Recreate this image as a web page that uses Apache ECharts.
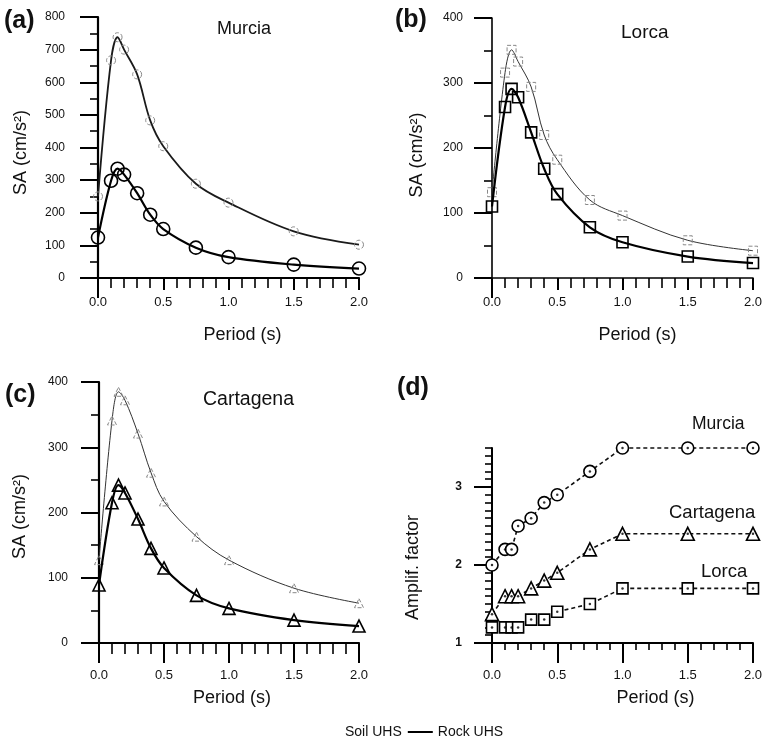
<!DOCTYPE html>
<html>
<head>
<meta charset="utf-8">
<script src="https://cdn.jsdelivr.net/npm/echarts@6/dist/echarts.min.js"></script>
<style>
html,body{margin:0;padding:0;background:#fff;}
#chart{width:767px;height:743px;}
</style>
</head>
<body>
<div id="chart"></div>
<script>
// ---------------- data ----------------
const period = [0, 0.1, 0.15, 0.2, 0.3, 0.4, 0.5, 0.75, 1.0, 1.5, 2.0];

const murciaSoil = [250, 667, 738, 700, 624, 483, 404, 289, 231, 143, 102];
const murciaRock = [124, 298, 335, 317, 260, 194, 150, 93, 64, 41, 29];
const lorcaSoil  = [132, 316, 351, 333, 294, 220, 182, 120, 96, 58, 42];
const lorcaRock  = [110, 263, 291, 278, 224, 168, 129, 78, 55, 33, 23];
const cartSoil   = [127, 341, 385, 372, 321, 261, 217, 163, 127, 84, 61];
const cartRock   = [89, 215, 242, 230, 190, 145, 115, 73, 53, 35, 26];

const ampMurcia = [2.0, 2.2, 2.2, 2.5, 2.6, 2.8, 2.9, 3.2, 3.5, 3.5, 3.5];
const ampCart   = [1.37, 1.6, 1.6, 1.6, 1.7, 1.8, 1.9, 2.2, 2.4, 2.4, 2.4];
const ampLorca  = [1.2, 1.2, 1.2, 1.2, 1.3, 1.3, 1.4, 1.5, 1.7, 1.7, 1.7];

const xMajor = [0, 0.5, 1.0, 1.5, 2.0];
const xMinor = [0.1, 0.2, 0.3, 0.4, 0.6, 0.7, 0.8, 0.9, 1.1, 1.2, 1.3, 1.4, 1.6, 1.7, 1.8, 1.9];
const yMajorA = [0, 100, 200, 300, 400, 500, 600, 700, 800];
const yMinorA = [50, 150, 250, 350, 450, 550, 650, 750];
const yMajorBC = [0, 100, 200, 300, 400];
const yMinorBC = [50, 150, 250, 350];
const yMajorD = [1, 2, 3];
const yMinorD = [1.1, 1.2, 1.3, 1.4, 1.5, 1.6, 1.7, 1.8, 1.9, 2.1, 2.2, 2.3, 2.4, 2.5, 2.6, 2.7, 2.8, 2.9, 3.1, 3.2, 3.3, 3.4, 3.5];

const xName = 'Period (s)';
const saName = 'SA (cm/s\u00B2)';
const ampName = 'Amplif. factor';
const legendNames = ['Soil UHS', 'Rock UHS'];
// ---------------------------------------

const FONT = '"Liberation Sans", Arial, Helvetica, sans-serif';
const zip = (xs, ys) => xs.map((x, i) => [x, ys[i]]);

const grids = [
  {left: 98, top: 17, width: 261, height: 261},
  {left: 492, top: 18, width: 261, height: 260},
  {left: 99, top: 382, width: 260, height: 261},
  {left: 492, top: 448, width: 261, height: 195}
];

const xAxes = [], yAxes = [], series = [];

function addAxes(p) {
  const gi = p.grid;
  const xi = xAxes.length;
  xAxes.push({
    type: 'value', gridIndex: gi, min: 0, max: 2, position: 'bottom',
    name: xName, nameLocation: 'middle', nameGap: p.xNameGap,
    nameTextStyle: {fontSize: 18, color: '#111', fontFamily: FONT, padding: [0, 0, 0, p.xNameShift * 2]},
    axisLine: {show: true, onZero: false, lineStyle: {color: '#000', width: p.axisW}},
    axisTick: {show: true, customValues: xMajor, length: p.xMajorLen, lineStyle: {color: '#000', width: 2}},
    axisLabel: {show: true, customValues: xMajor, formatter: v => Number(v).toFixed(1), margin: p.xLabelMargin,
      fontSize: p.xLabelSize, color: '#111', fontFamily: FONT},
    splitLine: {show: false}
  });
  xAxes.push({
    type: 'value', gridIndex: gi, min: 0, max: 2, position: 'bottom',
    axisLine: {show: false, onZero: false},
    axisTick: {show: true, customValues: xMinor, length: p.xMinorLen, lineStyle: {color: '#000', width: 1.6}},
    axisLabel: {show: false}, splitLine: {show: false}
  });
  if (p.zeroTick) {
    xAxes.push({
      type: 'value', gridIndex: gi, min: 0, max: 2, position: 'bottom',
      axisLine: {show: false, onZero: false},
      axisTick: {show: true, customValues: [0], length: p.zeroTick, lineStyle: {color: '#000', width: 2}},
      axisLabel: {show: false}, splitLine: {show: false}
    });
  }
  const yi = yAxes.length;
  yAxes.push({
    type: 'value', gridIndex: gi, min: p.ymin, max: p.ymax, position: 'left',
    name: p.yName, nameLocation: 'middle', nameGap: p.yNameGap,
    nameTextStyle: {fontSize: p.yNameSize, color: '#111', fontFamily: FONT, padding: [0, p.yNameShift * 2, 0, 0]},
    axisLine: {show: true, onZero: false, lineStyle: {color: '#000', width: p.axisW}},
    axisTick: {show: true, customValues: p.yMajor, length: 18, lineStyle: {color: '#000', width: 2}},
    axisLabel: {show: true, customValues: p.yMajor, margin: p.yLabelMargin, fontSize: p.yLabelSize,
      color: '#111', fontFamily: FONT, fontWeight: p.yLabelWeight || 'normal'},
    splitLine: {show: false}
  });
  yAxes.push({
    type: 'value', gridIndex: gi, min: p.ymin, max: p.ymax, position: 'left',
    axisLine: {show: false, onZero: false},
    axisTick: {show: true, customValues: p.yMinor, length: p.yMinorLen, lineStyle: {color: '#000', width: 1.6}},
    axisLabel: {show: false}, splitLine: {show: false}
  });
  return {xi, yi};
}

function addUHS(ax, symbol, soil, rock, soilW, soilColor, soilSize, rockSize) {
  series.push({
    type: 'line', name: legendNames[0], xAxisIndex: ax.xi, yAxisIndex: ax.yi,
    data: zip(period, soil), smooth: 0.35, clip: false,
    symbol: symbol, symbolSize: soilSize, showAllSymbol: true,
    lineStyle: {color: soilColor, width: soilW},
    itemStyle: {color: 'rgba(255,255,255,0)', borderColor: '#888', borderWidth: 1, borderType: 'dashed'},
    z: 3
  });
  series.push({
    type: 'line', name: legendNames[1], xAxisIndex: ax.xi, yAxisIndex: ax.yi,
    data: zip(period, rock), smooth: 0.35, clip: false,
    symbol: symbol, symbolSize: rockSize, showAllSymbol: true,
    lineStyle: {color: '#000', width: 2.2},
    itemStyle: {color: 'rgba(255,255,255,0)', borderColor: '#000', borderWidth: 1.6},
    z: 4
  });
}

function addAmp(ax, name, symbol, vals, size) {
  series.push({
    type: 'line', name: name, xAxisIndex: ax.xi, yAxisIndex: ax.yi,
    data: zip(period, vals), clip: false,
    symbol: symbol, symbolSize: size, showAllSymbol: true,
    lineStyle: {color: '#111', width: 1.6, type: [4, 3]},
    itemStyle: {color: '#fff', borderColor: '#000', borderWidth: 1.6},
    z: 3
  });
  series.push({
    type: 'scatter', name: name + ' centre', xAxisIndex: ax.xi, yAxisIndex: ax.yi,
    data: zip(period, vals), symbol: 'circle', symbolSize: 2.5, clip: false,
    itemStyle: {color: '#000'}, z: 5, silent: true
  });
}

const axA = addAxes({grid: 0, ymin: 0, ymax: 800, yMajor: yMajorA, yMinor: yMinorA, yMinorLen: 8,
  yName: saName, yNameSize: 18, yNameGap: 68, yNameShift: 5, yLabelMargin: 33, yLabelSize: 12,
  xNameGap: 48, xNameShift: 14, xLabelMargin: 18, xLabelSize: 13, xMajorLen: 12, xMinorLen: 10, zeroTick: 20, axisW: 2.2});
const axB = addAxes({grid: 1, ymin: 0, ymax: 400, yMajor: yMajorBC, yMinor: yMinorBC, yMinorLen: 8,
  yName: saName, yNameSize: 18, yNameGap: 66, yNameShift: 7, yLabelMargin: 29, yLabelSize: 12,
  xNameGap: 48, xNameShift: 15, xLabelMargin: 18, xLabelSize: 13, xMajorLen: 12, xMinorLen: 10, zeroTick: 20, axisW: 1.6});
const axC = addAxes({grid: 2, ymin: 0, ymax: 400, yMajor: yMajorBC, yMinor: yMinorBC, yMinorLen: 8,
  yName: saName, yNameSize: 18, yNameGap: 70, yNameShift: 4, yLabelMargin: 31, yLabelSize: 12,
  xNameGap: 46, xNameShift: 3, xLabelMargin: 26, xLabelSize: 13, xMajorLen: 20, xMinorLen: 11, axisW: 2.2});
const axD = addAxes({grid: 3, ymin: 1, ymax: 3.5, yMajor: yMajorD, yMinor: yMinorD, yMinorLen: 7,
  yName: ampName, yNameSize: 18, yNameGap: 70, yNameShift: 22, yLabelMargin: 30, yLabelSize: 12, yLabelWeight: 'bold',
  xNameGap: 46, xNameShift: 33, xLabelMargin: 26, xLabelSize: 13, xMajorLen: 20, xMinorLen: 7, axisW: 2});

addUHS(axA, 'circle', murciaSoil, murciaRock, 1.8, '#1a1a1a', 9, 13);
addUHS(axB, 'rect', lorcaSoil, lorcaRock, 1, '#333', 9, 11);
addUHS(axC, 'triangle', cartSoil, cartRock, 1, '#333', 9, 12);
addAmp(axD, 'Murcia', 'circle', ampMurcia, 12);
addAmp(axD, 'Cartagena', 'triangle', ampCart, 13);
addAmp(axD, 'Lorca', 'rect', ampLorca, 11);

function label(text, left, top, size, bold) {
  return {text: text, left: left, top: top, padding: 0,
    textStyle: {fontSize: size, fontWeight: bold ? 'bold' : 'normal', color: '#111', fontFamily: FONT}};
}

const option = {
  animation: false,
  backgroundColor: '#fff',
  title: [
    label('(a)', 4, 9, 25, true),
    label('(b)', 395, 8, 25, true),
    label('(c)', 5, 383, 25, true),
    label('(d)', 397, 376, 25, true),
    label('Murcia', 217, 20, 18, false),
    label('Lorca', 621, 23, 19, false),
    label('Cartagena', 203, 390, 19.5, false),
    label('Murcia', 692, 415, 17.5, false),
    label('Cartagena', 669, 503, 18.5, false),
    label('Lorca', 701, 562, 18.5, false)
  ],
  legend: {
    left: 315, top: 725, padding: 0, itemWidth: 25, itemHeight: 2, itemGap: 6,
    textStyle: {fontSize: 14, color: '#111', fontFamily: FONT},
    data: [
      {name: legendNames[0], icon: 'rect', itemStyle: {color: 'rgba(0,0,0,0)', borderWidth: 0}},
      {name: legendNames[1], icon: 'rect', itemStyle: {color: '#000', borderWidth: 0}}
    ],
    selectedMode: false
  },
  grid: grids,
  xAxis: xAxes,
  yAxis: yAxes,
  series: series
};

const chart = echarts.init(document.getElementById('chart'), null, {renderer: 'canvas'});
chart.setOption(option);
</script>
</body>
</html>
